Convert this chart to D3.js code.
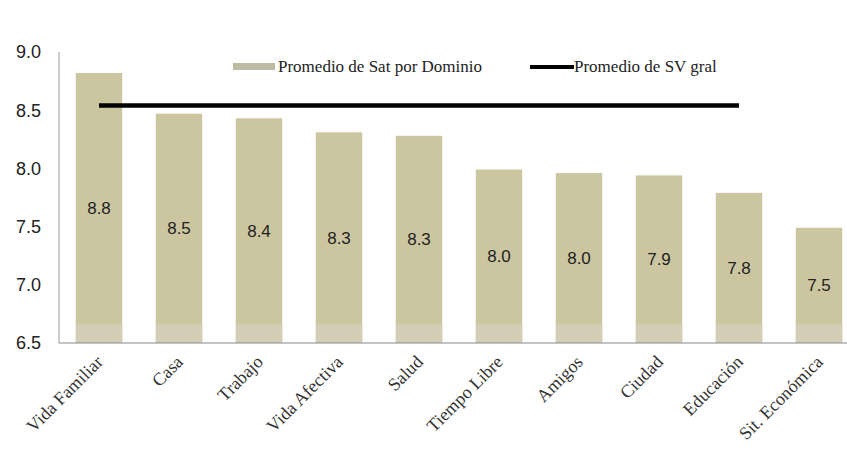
<!DOCTYPE html>
<html>
<head>
<meta charset="utf-8">
<script src="https://cdn.jsdelivr.net/npm/d3@7"></script>
<style>
  html, body { margin: 0; padding: 0; background: #ffffff; }
  svg { display: block; }
</style>
</head>
<body>
<svg id="chart" width="847" height="450"></svg>
<script>
// Satisfaction by life domain, with the overall life-satisfaction average
const categories = ["Vida Familiar", "Casa", "Trabajo", "Vida Afectiva", "Salud",
                    "Tiempo Libre", "Amigos", "Ciudad", "Educación", "Sit. Económica"];
const domainMeans = [8.82, 8.47, 8.43, 8.31, 8.28, 7.99, 7.96, 7.94, 7.79, 7.49];
const overallMean = [8.54, 8.54, 8.54, 8.54, 8.54, 8.54, 8.54, 8.54, 8.54];
const yTicks = [6.5, 7.0, 7.5, 8.0, 8.5, 9.0];
const seriesNames = ["Promedio de Sat por Dominio", "Promedio de SV gral"];

const svg = d3.select("#chart");
const plotLeft = 59, plotRight = 859, plotTop = 52, plotBottom = 343;

const x = d3.scaleBand().domain(categories).range([plotLeft, plotRight]).paddingInner(0.42).paddingOuter(0.21);
const y = d3.scaleLinear().domain([6.5, 9.0]).range([plotBottom, plotTop]);

const barColor = "#ccc6a0";
const serif = "'Liberation Serif', 'DejaVu Serif', serif";
const sans = "'Liberation Sans', Arial, sans-serif";

// bars
const bars = svg.append("g");
bars.selectAll("rect.bar")
  .data(domainMeans)
  .join("rect")
  .attr("class", "bar")
  .attr("x", (d, i) => x(categories[i]))
  .attr("width", x.bandwidth())
  .attr("y", d => y(d))
  .attr("height", d => y(6.5) - y(d))
  .attr("fill", barColor);

// lighter strip along the base of each bar
bars.selectAll("rect.base")
  .data(domainMeans)
  .join("rect")
  .attr("class", "base")
  .attr("x", (d, i) => x(categories[i]))
  .attr("width", x.bandwidth())
  .attr("y", y(6.66))
  .attr("height", y(6.5) - y(6.66))
  .attr("fill", "#d2cdb4");

// value labels centred in each bar
svg.append("g").selectAll("text")
  .data(domainMeans)
  .join("text")
  .attr("x", (d, i) => x(categories[i]) + x.bandwidth() / 2)
  .attr("y", d => (y(d) + y(6.5)) / 2)
  .attr("dy", "0.35em")
  .attr("text-anchor", "middle")
  .attr("font-family", sans)
  .attr("font-size", 17)
  .attr("fill", "#222")
  .text(d => d3.format(".1f")(d));

// overall mean line
const line = d3.line()
  .x((d, i) => x(categories[i]) + x.bandwidth() / 2)
  .y(d => y(d));
svg.append("path")
  .datum(overallMean)
  .attr("d", line)
  .attr("fill", "none")
  .attr("stroke", "#000")
  .attr("stroke-width", 4.5);

// axes
svg.append("line")
  .attr("x1", plotLeft).attr("x2", plotLeft)
  .attr("y1", plotTop).attr("y2", plotBottom)
  .attr("stroke", "#9a9a9a").attr("stroke-width", 1);
svg.append("line")
  .attr("x1", plotLeft).attr("x2", 847)
  .attr("y1", plotBottom).attr("y2", plotBottom)
  .attr("stroke", "#8a8a8a").attr("stroke-width", 1.2);

// y tick labels
svg.append("g").selectAll("text")
  .data(yTicks)
  .join("text")
  .attr("x", 41)
  .attr("y", d => y(d))
  .attr("dy", "0.35em")
  .attr("text-anchor", "end")
  .attr("font-family", sans)
  .attr("font-size", 18)
  .attr("fill", "#222")
  .text(d => d3.format(".1f")(d));

// rotated category labels
svg.append("g").selectAll("text")
  .data(categories)
  .join("text")
  .attr("transform", d => `translate(${x(d) + x.bandwidth() / 2 + 5},${plotBottom + 20}) rotate(-45)`)
  .attr("text-anchor", "end")
  .attr("font-family", serif)
  .attr("font-size", 18)
  .attr("fill", "#333")
  .text(d => d);

// legend
const legend = svg.append("g");
legend.append("rect")
  .attr("x", 233).attr("y", 63).attr("width", 42).attr("height", 7)
  .attr("fill", "#bdbba3");
legend.append("text")
  .attr("x", 278).attr("y", 72)
  .attr("font-family", serif)
  .attr("font-size", 17)
  .attr("fill", "#222")
  .text(seriesNames[0]);
legend.append("line")
  .attr("x1", 530).attr("x2", 574).attr("y1", 67).attr("y2", 67)
  .attr("stroke", "#000").attr("stroke-width", 4);
legend.append("text")
  .attr("x", 574).attr("y", 72)
  .attr("font-family", serif)
  .attr("font-size", 17)
  .attr("fill", "#222")
  .text(seriesNames[1]);
</script>
</body>
</html>
